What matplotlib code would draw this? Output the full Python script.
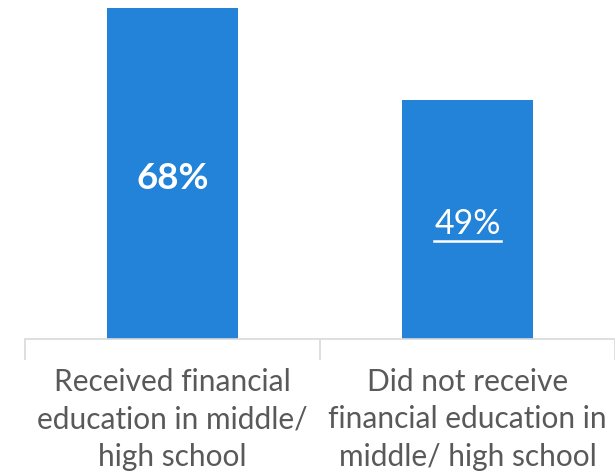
import matplotlib
matplotlib.use("Agg")
import matplotlib.pyplot as plt
from matplotlib.lines import Line2D

categories = ["Received financial\neducation in middle/\nhigh school",
              "Did not receive\nfinancial education in\nmiddle/ high school"]
values = [68, 49]
value_labels = ["68%", "49%"]

BAR_COLOR = "#2283D9"
TEXT_GRAY = "#595959"
AXIS_GRAY = "#D9D9D9"
FONT = ["Lato", "DejaVu Sans"]

fig = plt.figure(figsize=(6.15, 4.72), dpi=100)
ax = fig.add_axes([25 / 615, 1 - 339 / 472, 590 / 615, 339 / 472])

x = [0.5, 1.5]
ax.bar(x, values, width=0.444, color=BAR_COLOR, zorder=2)
ax.set_xlim(0, 2)
ax.set_ylim(0, 69.6)

for side in ("top", "right", "left"):
    ax.spines[side].set_visible(False)
ax.spines["bottom"].set_color(AXIS_GRAY)
ax.spines["bottom"].set_linewidth(1.2)
ax.set_yticks([])

# Category boundaries as tick marks, labels centred between them
ax.set_xticks([0, 1, 2])
ax.set_xticklabels([])
ax.tick_params(axis="x", length=15, color=AXIS_GRAY, width=1.2)
for xi, cat in zip(x, categories):
    ax.text(xi, -0.085, cat, transform=ax.get_xaxis_transform(), ha="center",
            va="top", fontsize=21.5, color=TEXT_GRAY, family=FONT,
            linespacing=1.42)

# Value labels inside the bars
t1 = ax.text(x[0], 33, value_labels[0], ha="center", va="center",
             fontsize=26.5, color="white", fontweight="bold", family=FONT)
t2 = ax.text(x[1], 23.7, value_labels[1], ha="center", va="center",
             fontsize=24.5, color="white", family=FONT)

# Underline for the second value label
fig.canvas.draw()
bb = t2.get_window_extent(renderer=fig.canvas.get_renderer())
inv = fig.transFigure.inverted()
(x0, y0), (x1, _) = inv.transform([(bb.x0, bb.y0 - 1), (bb.x1, bb.y0 - 1)])
fig.add_artist(Line2D([x0, x1], [y0, y0], transform=fig.transFigure,
                      color="white", linewidth=1.8))

fig.savefig("out.png", dpi=100)
